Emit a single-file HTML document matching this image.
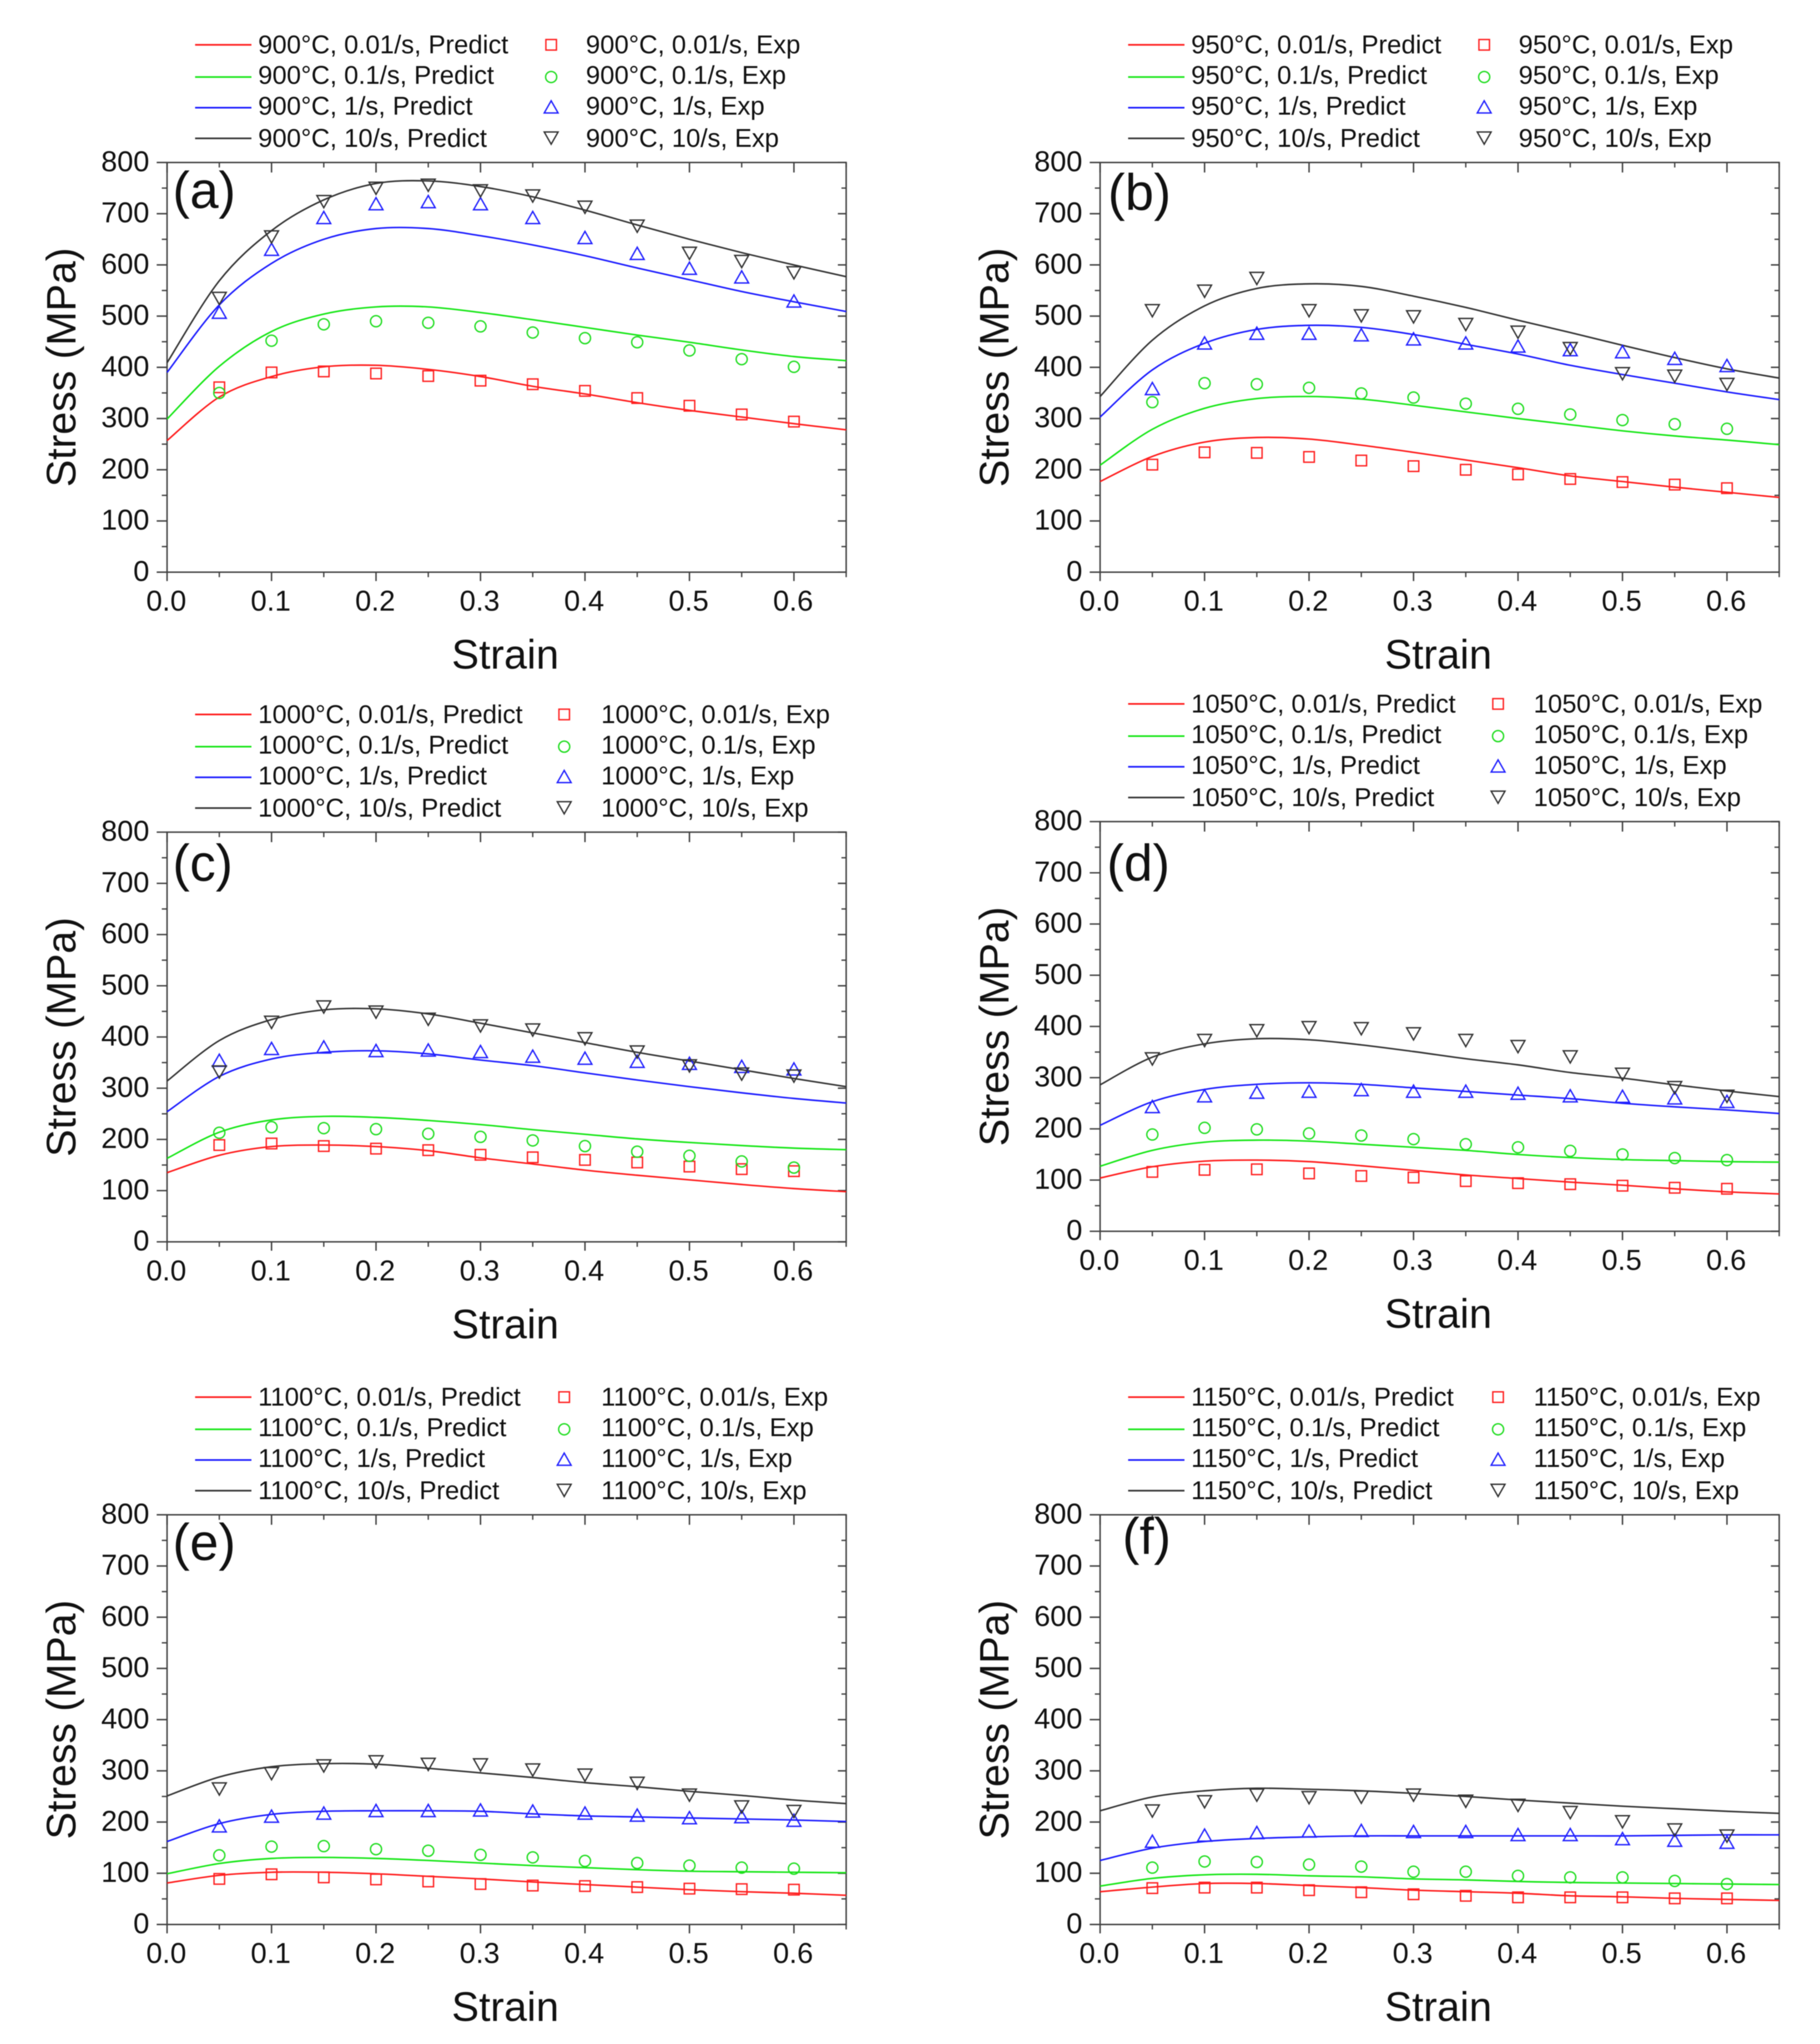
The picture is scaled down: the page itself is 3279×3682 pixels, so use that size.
<!DOCTYPE html>
<html lang="en">
<head>
<meta charset="utf-8">
<title>Flow stress curves: predicted vs experimental</title>
<style>
  html, body { margin: 0; padding: 0; background: #fff; }
  #figure { display: block; width: 3279px; height: 3682px; filter: blur(0.7px); }
  text { font-family: "Liberation Sans", sans-serif; fill: #111; }
</style>
</head>
<body>
<svg id="figure" xmlns="http://www.w3.org/2000/svg" width="3279" height="3682" viewBox="0 0 3279 3682"></svg>
<script>
/* ---------- shared axis data ---------- */
const strainPredict = [0, 0.05, 0.1, 0.15, 0.2, 0.25, 0.3, 0.35, 0.4, 0.45, 0.5, 0.55, 0.6, 0.65];
const strainExp = [0.05, 0.1, 0.15, 0.2, 0.25, 0.3, 0.35, 0.4, 0.45, 0.5, 0.55, 0.6];
const stressTickValues = [0, 100, 200, 300, 400, 500, 600, 700, 800];
const stressTickLabels = ["0", "100", "200", "300", "400", "500", "600", "700", "800"];
const stressMinorValues = [50, 150, 250, 350, 450, 550, 650, 750];
const strainTickValues = [0, 0.1, 0.2, 0.3, 0.4, 0.5, 0.6];
const strainTickLabels = ["0.0", "0.1", "0.2", "0.3", "0.4", "0.5", "0.6"];
const strainMinorValues = [0.05, 0.15, 0.25, 0.35, 0.45, 0.55, 0.65];

/* ---------- panel (a) 900 C ---------- */
const aPredict001 = [257, 342, 382, 401, 404, 396, 382, 363, 348, 331, 316, 303, 290, 278];
const aPredict01 = [299, 402, 470, 504, 518, 518, 507, 493, 478, 463, 449, 434, 421, 413];
const aPredict1 = [390, 522, 603, 650, 671, 671, 657, 639, 618, 594, 571, 548, 528, 509];
const aPredict10 = [409, 569, 667, 727, 759, 764, 753, 733, 707, 678, 650, 624, 600, 577];
const aExp001 = [361, 390, 392, 388, 383, 374, 367, 354, 340, 325, 308, 294];
const aExp01 = [350, 452, 484, 490, 487, 480, 468, 457, 449, 433, 416, 401];
const aExp1 = [506, 629, 691, 718, 722, 718, 691, 652, 621, 592, 575, 528];
const aExp10 = [534, 654, 723, 749, 755, 744, 734, 712, 675, 622, 606, 584];
const aLegendPredict = ["900°C, 0.01/s, Predict", "900°C, 0.1/s, Predict", "900°C, 1/s, Predict", "900°C, 10/s, Predict"];
const aLegendExp = ["900°C, 0.01/s, Exp", "900°C, 0.1/s, Exp", "900°C, 1/s, Exp", "900°C, 10/s, Exp"];

/* ---------- panel (b) 950 C ---------- */
const bPredict001 = [177, 226, 254, 263, 260, 248, 234, 219, 204, 188, 177, 166, 156, 146];
const bPredict01 = [209, 279, 320, 339, 343, 338, 326, 313, 300, 288, 276, 266, 258, 249];
const bPredict1 = [303, 395, 447, 474, 482, 478, 464, 445, 426, 404, 386, 369, 352, 337];
const bPredict10 = [343, 453, 520, 554, 563, 558, 539, 517, 492, 468, 443, 419, 397, 379];
const bExp001 = [210, 234, 233, 225, 218, 207, 200, 191, 182, 176, 171, 164];
const bExp01 = [332, 369, 367, 360, 349, 341, 329, 319, 308, 297, 289, 280];
const bExp1 = [357, 446, 465, 465, 462, 454, 446, 440, 433, 429, 416, 402];
const bExp10 = [510, 548, 573, 510, 500, 498, 483, 468, 436, 387, 382, 366];
const bLegendPredict = ["950°C, 0.01/s, Predict", "950°C, 0.1/s, Predict", "950°C, 1/s, Predict", "950°C, 10/s, Predict"];
const bLegendExp = ["950°C, 0.01/s, Exp", "950°C, 0.1/s, Exp", "950°C, 1/s, Exp", "950°C, 10/s, Exp"];

/* ---------- panel (c) 1000 C ---------- */
const cPredict001 = [135, 169, 186, 189, 186, 178, 164, 152, 140, 130, 121, 112, 104, 98];
const cPredict01 = [163, 214, 238, 245, 243, 237, 229, 219, 210, 201, 194, 188, 183, 180];
const cPredict1 = [254, 323, 357, 370, 373, 367, 355, 344, 330, 316, 303, 291, 280, 271];
const cPredict10 = [314, 393, 434, 453, 455, 445, 427, 408, 389, 370, 353, 336, 319, 303];
const cExp001 = [189, 192, 187, 182, 179, 170, 165, 160, 155, 147, 142, 138];
const cExp01 = [213, 224, 222, 220, 211, 205, 198, 187, 176, 168, 157, 145];
const cExp1 = [353, 376, 379, 372, 373, 370, 361, 357, 351, 347, 341, 336];
const cExp10 = [331, 428, 458, 448, 434, 421, 413, 396, 370, 343, 327, 323];
const cLegendPredict = ["1000°C, 0.01/s, Predict", "1000°C, 0.1/s, Predict", "1000°C, 1/s, Predict", "1000°C, 10/s, Predict"];
const cLegendExp = ["1000°C, 0.01/s, Exp", "1000°C, 0.1/s, Exp", "1000°C, 1/s, Exp", "1000°C, 10/s, Exp"];

/* ---------- panel (d) 1050 C ---------- */
const dPredict001 = [104, 126, 137, 139, 136, 128, 119, 110, 103, 96, 90, 83, 77, 73];
const dPredict01 = [127, 158, 174, 178, 176, 170, 164, 158, 150, 144, 140, 138, 136, 135];
const dPredict1 = [207, 253, 277, 287, 290, 287, 280, 273, 266, 259, 250, 243, 237, 230];
const dPredict10 = [286, 340, 366, 376, 374, 364, 351, 337, 325, 310, 299, 286, 274, 263];
const dExp001 = [116, 120, 121, 113, 108, 105, 98, 94, 92, 89, 85, 83];
const dExp01 = [189, 202, 199, 191, 187, 180, 170, 164, 157, 150, 143, 139];
const dExp1 = [242, 263, 270, 272, 275, 272, 272, 268, 263, 262, 259, 252];
const dExp10 = [336, 372, 391, 397, 395, 385, 372, 360, 340, 306, 280, 263];
const dLegendPredict = ["1050°C, 0.01/s, Predict", "1050°C, 0.1/s, Predict", "1050°C, 1/s, Predict", "1050°C, 10/s, Predict"];
const dLegendExp = ["1050°C, 0.01/s, Exp", "1050°C, 0.1/s, Exp", "1050°C, 1/s, Exp", "1050°C, 10/s, Exp"];

/* ---------- panel (e) 1100 C ---------- */
const ePredict001 = [81, 96, 102, 102, 99, 94, 89, 83, 78, 73, 68, 64, 61, 57];
const ePredict01 = [99, 119, 129, 131, 129, 125, 120, 115, 111, 107, 104, 103, 102, 101];
const ePredict1 = [162, 197, 215, 221, 222, 222, 221, 216, 212, 210, 208, 206, 204, 201];
const ePredict10 = [251, 288, 308, 314, 313, 305, 296, 287, 277, 269, 260, 252, 243, 236];
const eExp001 = [89, 98, 92, 88, 84, 79, 76, 75, 73, 70, 69, 68];
const eExp01 = [135, 152, 153, 147, 144, 136, 131, 124, 120, 115, 111, 109];
const eExp1 = [191, 210, 216, 221, 221, 222, 220, 216, 212, 207, 209, 202];
const eExp10 = [264, 294, 309, 317, 312, 311, 301, 291, 275, 252, 229, 220];
const eLegendPredict = ["1100°C, 0.01/s, Predict", "1100°C, 0.1/s, Predict", "1100°C, 1/s, Predict", "1100°C, 10/s, Predict"];
const eLegendExp = ["1100°C, 0.01/s, Exp", "1100°C, 0.1/s, Exp", "1100°C, 1/s, Exp", "1100°C, 10/s, Exp"];

/* ---------- panel (f) 1150 C ---------- */
const fPredict001 = [64, 73, 80, 80, 76, 72, 67, 64, 61, 56, 54, 51, 49, 47];
const fPredict01 = [75, 90, 97, 98, 95, 93, 89, 87, 84, 82, 81, 80, 79, 78];
const fPredict1 = [125, 149, 162, 168, 171, 173, 173, 173, 173, 173, 173, 174, 175, 175];
const fPredict10 = [222, 249, 261, 266, 264, 261, 256, 250, 243, 237, 231, 226, 221, 217];
const fExp001 = [71, 72, 72, 67, 63, 59, 56, 53, 53, 53, 51, 51];
const fExp01 = [111, 123, 122, 117, 113, 103, 103, 95, 92, 92, 85, 79];
const fExp1 = [161, 173, 178, 181, 182, 180, 180, 174, 174, 166, 163, 159];
const fExp10 = [221, 239, 252, 247, 248, 252, 240, 232, 218, 200, 184, 172];
const fLegendPredict = ["1150°C, 0.01/s, Predict", "1150°C, 0.1/s, Predict", "1150°C, 1/s, Predict", "1150°C, 10/s, Predict"];
const fLegendExp = ["1150°C, 0.01/s, Exp", "1150°C, 0.1/s, Exp", "1150°C, 1/s, Exp", "1150°C, 10/s, Exp"];

/* ---------- rendering ---------- */
const SVG_NS = "http://www.w3.org/2000/svg";
const root = document.getElementById("figure");
const PLOT_W = 1223.5;
const PLOT_H = 738;
const X_MAX = 0.65;
const Y_MAX = 800;
const AXIS_COLOR = "#404040";
const seriesColors = ["#ff1a1a", "#14e614", "#1a1aff", "#333333"];
const markerColors = ["#ff2020", "#20dd20", "#2020ff", "#333333"];
const seriesKeys = ["0-01-per-s", "0-1-per-s", "1-per-s", "10-per-s"];
const markerShapes = ["square", "circle", "triangle-up", "triangle-down"];

function make(tag, attrs, parent) {
  const el = document.createElementNS(SVG_NS, tag);
  for (const k in attrs) el.setAttribute(k, attrs[k]);
  parent.appendChild(el);
  return el;
}

function smoothPath(xs, ys) {
  let d = "M" + xs[0].toFixed(2) + " " + ys[0].toFixed(2);
  for (let i = 0; i < xs.length - 1; i++) {
    const i0 = Math.max(0, i - 1), i3 = Math.min(xs.length - 1, i + 2);
    const c1x = xs[i] + (xs[i + 1] - xs[i0]) / 6;
    const c1y = ys[i] + (ys[i + 1] - ys[i0]) / 6;
    const c2x = xs[i + 1] - (xs[i3] - xs[i]) / 6;
    const c2y = ys[i + 1] - (ys[i3] - ys[i]) / 6;
    d += "C" + c1x.toFixed(2) + " " + c1y.toFixed(2) + " " + c2x.toFixed(2) + " " + c2y.toFixed(2) + " " + xs[i + 1].toFixed(2) + " " + ys[i + 1].toFixed(2);
  }
  return d;
}

function drawMarker(shape, cx, cy, color, parent) {
  const sw = 2.5;
  if (shape === "square") {
    return make("rect", { x: cx - 9.5, y: cy - 9.5, width: 19, height: 19, fill: "none", stroke: color, "stroke-width": sw }, parent);
  }
  if (shape === "circle") {
    return make("circle", { cx: cx, cy: cy, r: 10, fill: "none", stroke: color, "stroke-width": sw }, parent);
  }
  const dir = shape === "triangle-up" ? 1 : -1;
  const my = shape === "triangle-up" ? cy : cy - 2;
  const pts = [
    [cx, my - dir * 12.5],
    [cx - 12.5, my + dir * 9.5],
    [cx + 12.5, my + dir * 9.5]
  ].map(p => p[0].toFixed(2) + "," + p[1].toFixed(2)).join(" ");
  return make("polygon", { points: pts, fill: "none", stroke: color, "stroke-width": sw }, parent);
}

function drawPanel(p) {
  const xAt = s => p.left + (s / X_MAX) * PLOT_W;
  const yAt = v => p.top + PLOT_H - (v / Y_MAX) * PLOT_H;
  const right = p.left + PLOT_W;
  const bottom = p.top + PLOT_H;

  const g = make("g", {}, root);
  
  

  /* frame */
  const frame = make("rect", { x: p.left, y: p.top, width: PLOT_W, height: PLOT_H, fill: "none", stroke: AXIS_COLOR, "stroke-width": 2.6 }, g);
  
  

  /* y ticks */
  stressTickValues.forEach((v, i) => {
    const y = yAt(v);
    const t = make("line", { x1: p.left - 18.7, x2: p.left, y1: y, y2: y, stroke: AXIS_COLOR, "stroke-width": 2.6 }, g);
    
    
    const tr = make("line", { x1: right - 15, x2: right, y1: y, y2: y, stroke: AXIS_COLOR, "stroke-width": 2.6 }, g);
    
    
    const lab = make("text", { x: p.left - 32, y: y + 15.6, "text-anchor": "end", "font-size": 52 }, g);
    lab.textContent = stressTickLabels[i];
    
    
  });
  stressMinorValues.forEach(v => {
    const y = yAt(v);
    const t = make("line", { x1: p.left - 9.5, x2: p.left, y1: y, y2: y, stroke: AXIS_COLOR, "stroke-width": 2.4 }, g);
    
    
    const tr = make("line", { x1: right - 8.5, x2: right, y1: y, y2: y, stroke: AXIS_COLOR, "stroke-width": 2.4 }, g);
    
    
  });

  /* x ticks */
  strainTickValues.forEach((s, i) => {
    const x = xAt(s);
    const t = make("line", { x1: x, x2: x, y1: bottom, y2: bottom + 16, stroke: AXIS_COLOR, "stroke-width": 2.6 }, g);
    
    
    const tt = make("line", { x1: x, x2: x, y1: p.top, y2: p.top + 18, stroke: AXIS_COLOR, "stroke-width": 2.6 }, g);
    
    
    const lab = make("text", { x: x - 1.5, y: bottom + 69.3, "text-anchor": "middle", "font-size": 52 }, g);
    lab.textContent = strainTickLabels[i];
    
    
  });
  strainMinorValues.forEach(s => {
    const x = xAt(s);
    const t = make("line", { x1: x, x2: x, y1: bottom, y2: bottom + 9, stroke: AXIS_COLOR, "stroke-width": 2.4 }, g);
    
    
    const tt = make("line", { x1: x, x2: x, y1: p.top, y2: p.top + 9, stroke: AXIS_COLOR, "stroke-width": 2.4 }, g);
    
    
  });

  /* axis titles */
  const xTitle = make("text", { x: p.left + PLOT_W / 2 - 2.5, y: bottom + 174, "text-anchor": "middle", "font-size": 74 }, g);
  xTitle.textContent = "Strain";
  
  
  const cy = p.top + PLOT_H / 2;
  const yTitle = make("text", { x: 0, y: 0, "text-anchor": "middle", "font-size": 74, transform: "translate(" + (p.left - 165) + " " + cy + ") rotate(-90)" }, g);
  yTitle.textContent = "Stress (MPa)";
  
  

  /* panel letter */
  const letter = make("text", { x: p.left + p.labelDx, y: p.top + p.labelDy, "font-size": 93 }, g);
  letter.textContent = p.label;
  
  

  /* predicted curves */
  p.predict.forEach((vals, i) => {
    const path = make("path", { d: smoothPath(strainPredict.map(xAt), vals.map(yAt)), fill: "none", stroke: seriesColors[i], "stroke-width": 2.8 }, g);
    
    
  });

  /* experimental points */
  p.exp.forEach((vals, i) => {
    vals.forEach((v, j) => {
      const m = drawMarker(markerShapes[i], xAt(strainExp[j]), yAt(v), markerColors[i], g);
      
      
    });
  });

  /* legend */
  const legend = make("g", {}, g);
  
  
  const lineRows = [-212, -154, -98.7, -43.4];
  const textRows = [-196.7, -141.7, -86, -28.2];
  p.legendPredict.forEach((label, i) => {
    const ly = p.top + lineRows[i];
    const sw = make("line", { x1: p.left + 50.5, x2: p.left + 152, y1: ly, y2: ly, stroke: seriesColors[i], "stroke-width": 3 }, legend);
    
    
    const tx = make("text", { x: p.left + 164, y: p.top + textRows[i], "font-size": 46.3 }, legend);
    tx.textContent = label;
    
    
    const mk = drawMarker(markerShapes[i], p.left + p.legendMarkerDx, ly, markerColors[i], legend);
    
    
    const ex = make("text", { x: p.left + p.legendExpDx, y: p.top + textRows[i], "font-size": 46.3 }, legend);
    ex.textContent = p.legendExp[i];
    
    
  });
}

drawPanel({ id: "a", label: "(a)", left: 301, top: 292.7, labelDx: 10, labelDy: 82, legendMarkerDx: 692, legendExpDx: 754.5,
  predict: [aPredict001, aPredict01, aPredict1, aPredict10], exp: [aExp001, aExp01, aExp1, aExp10], legendPredict: aLegendPredict, legendExp: aLegendExp });
drawPanel({ id: "b", label: "(b)", left: 1982, top: 292.7, labelDx: 14, labelDy: 86, legendMarkerDx: 692, legendExpDx: 754,
  predict: [bPredict001, bPredict01, bPredict1, bPredict10], exp: [bExp001, bExp01, bExp1, bExp10], legendPredict: bLegendPredict, legendExp: bLegendExp });
drawPanel({ id: "c", label: "(c)", left: 301, top: 1499, labelDx: 10, labelDy: 87.7, legendMarkerDx: 715.5, legendExpDx: 782,
  predict: [cPredict001, cPredict01, cPredict1, cPredict10], exp: [cExp001, cExp01, cExp1, cExp10], legendPredict: cLegendPredict, legendExp: cLegendExp });
drawPanel({ id: "d", label: "(d)", left: 1982, top: 1480, labelDx: 12, labelDy: 106.7, legendMarkerDx: 717, legendExpDx: 781,
  predict: [dPredict001, dPredict01, dPredict1, dPredict10], exp: [dExp001, dExp01, dExp1, dExp10], legendPredict: dLegendPredict, legendExp: dLegendExp });
drawPanel({ id: "e", label: "(e)", left: 301, top: 2728.7, labelDx: 10, labelDy: 81.3, legendMarkerDx: 715.5, legendExpDx: 782,
  predict: [ePredict001, ePredict01, ePredict1, ePredict10], exp: [eExp001, eExp01, eExp1, eExp10], legendPredict: eLegendPredict, legendExp: eLegendExp });
drawPanel({ id: "f", label: "(f)", left: 1982, top: 2728.7, labelDx: 40, labelDy: 71, legendMarkerDx: 717, legendExpDx: 781,
  predict: [fPredict001, fPredict01, fPredict1, fPredict10], exp: [fExp001, fExp01, fExp1, fExp10], legendPredict: fLegendPredict, legendExp: fLegendExp });
</script>
</body>
</html>
